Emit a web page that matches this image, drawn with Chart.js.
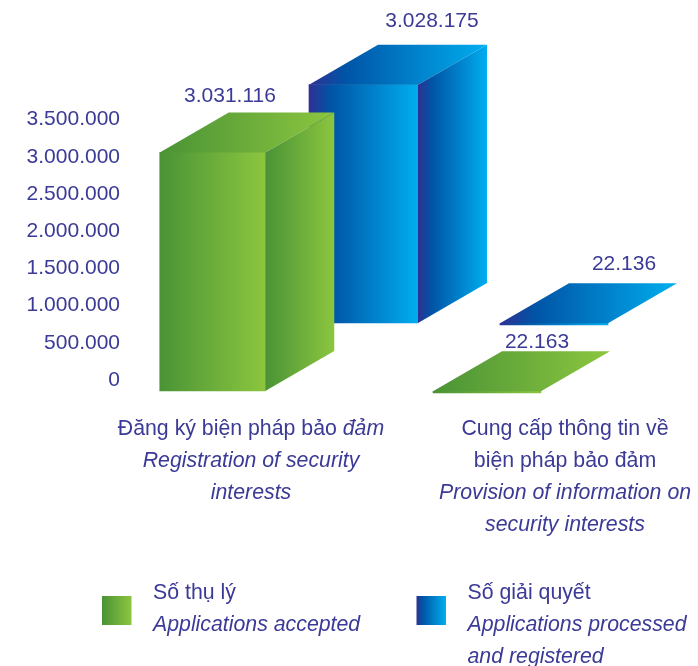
<!DOCTYPE html>
<html>
<head>
<meta charset="utf-8">
<title>Security interests</title>
<script src="https://cdn.jsdelivr.net/npm/chart.js@4/dist/chart.umd.min.js"></script>
<style>
html,body{margin:0;padding:0;background:#fff}
canvas{display:block}
</style>
</head>
<body>
<canvas id="chart" width="698" height="666"></canvas>
<script>
const categories=["Registration","Provision of information"]
const acceptedValues=[3031116,22163]
const processedValues=[3028175,22136]
const yTickValues=[0,500000,1000000,1500000,2000000,2500000,3000000,3500000]

// each label line is a list of [text, italic] runs
const categoryLines=[
[[["Đăng ký biện pháp bảo ",false],["đảm",true]],[["Registration of security",true]],[["interests",true]]],
[[["Cung cấp thông tin về",false]],[["biện pháp bảo đảm",false]],[["Provision of information on",true]],[["security interests",true]]]
]
const legendLines=[
[["Số thụ lý",false],["Applications accepted",true]],
[["Số giải quyết",false],["Applications processed",true],["and registered",true]]
]

const textColor="#3b3a96"
const fontFamily='"Liberation Sans",Arial,sans-serif'
const greenStops=[[0,"#4a9336"],[1,"#8cc63f"]]
const blueStops=[[0,"#2e3192"],[0.2,"#0054a6"],[1,"#00aeef"]]

// the boxes sit on staggered floors, so every bar is moved off its category centre
const seriesLook=[
{stops:greenStops,shiftX:[-38.5,-78],shiftY:[0,2],widths:[105.5,108],labelX:[17.5,50],labelY:[-56.5,-49.5]},
{stops:blueStops,shiftX:[112.5,-11],shiftY:[-68,-66],widths:[109,108],labelX:[68.5,70],labelY:[-63.5,-59]}
]
const depthX=69
const depthY=-40

function dotted(n){
return String(n).replace(/\B(?=(\d{3})+$)/g,".")
}

function hGradient(c,x0,x1,stops){
const g=c.createLinearGradient(x0,0,x1,0)
stops.forEach(s=>g.addColorStop(s[0],s[1]))
return g
}

function poly(c,pts,fill){
c.fillStyle=fill
c.beginPath()
pts.forEach((p,i)=>i?c.lineTo(p[0],p[1]):c.moveTo(p[0],p[1]))
c.closePath()
c.fill()
}

function drawRuns(c,runs,x,y,size,centered){
const fonts=runs.map(r=>(r[1]?"italic ":"")+size+"px "+fontFamily)
let total=0
runs.forEach((r,i)=>{c.font=fonts[i];total+=c.measureText(r[0]).width})
let px=centered?x-total/2:x
c.textAlign="left"
c.textBaseline="middle"
c.fillStyle=textColor
runs.forEach((r,i)=>{
c.font=fonts[i]
c.fillText(r[0],px,y)
px+=c.measureText(r[0]).width
})
}

const boxPlugin={
id:"box3d",
afterDatasetsUpdate(chart){
chart.data.datasets.forEach((ds,d)=>{
const look=seriesLook[d]
chart.getDatasetMeta(d).data.forEach((el,i)=>{
el.x+=look.shiftX[i]
el.y+=look.shiftY[i]
el.base+=look.shiftY[i]
el.width=look.widths[i]
const fill=hGradient(chart.ctx,el.x-el.width/2,el.x+el.width/2,look.stops)
el.options=Object.assign({},el.options,{backgroundColor:fill})
})
})
},
afterDatasetDraw(chart,args){
const c=chart.ctx
const look=seriesLook[args.index]
args.meta.data.forEach(el=>{
const l=el.x-el.width/2
const r=el.x+el.width/2
const t=el.y
const b=el.base
// top face, then the right side (too thin to show on the tiny values)
poly(c,[[l,t],[r,t],[r+depthX,t+depthY],[l+depthX,t+depthY]],hGradient(c,l,r+depthX,look.stops))
if(b-t>3){
poly(c,[[r,t],[r+depthX,t+depthY],[r+depthX,b+depthY],[r,b]],hGradient(c,r,r+depthX,look.stops))
}
})
},
afterDraw(chart){
const c=chart.ctx
const xScale=chart.scales.x

chart.data.datasets.forEach((ds,d)=>{
const look=seriesLook[d]
chart.getDatasetMeta(d).data.forEach((el,i)=>{
drawRuns(c,[[dotted(ds.data[i]),false]],el.x+look.labelX[i],el.y+look.labelY[i],21,true)
})
})

categoryLines.forEach((lines,i)=>{
lines.forEach((runs,n)=>{
drawRuns(c,runs,xScale.getPixelForTick(i),429+n*32,21.3,true)
})
})

legendLines.forEach((lines,i)=>{
const left=i?416.5:102
c.fillStyle=hGradient(c,left,left+29.5,seriesLook[i].stops)
c.fillRect(left,596,29.5,29)
lines.forEach((run,n)=>{
drawRuns(c,[run],left+51,593+n*32,21.3,false)
})
})
}
}

new Chart(document.getElementById("chart"),{
type:"bar",
data:{
labels:categories,
datasets:[
{label:"Applications accepted",data:acceptedValues,yAxisID:"yBars",clip:false},
{label:"Applications processed and registered",data:processedValues,yAxisID:"yBars",clip:false}
]
},
plugins:[boxPlugin],
options:{
responsive:false,
animation:false,
grouped:false,
barThickness:108,
layout:{autoPadding:false,padding:{left:0,right:133,top:118.5,bottom:275}},
plugins:{legend:{display:false},tooltip:{enabled:false}},
scales:{
x:{display:false,offset:false,grid:{display:false}},
y:{
position:"left",
min:-147800,
max:3513400,
border:{display:false},
grid:{display:false,drawTicks:false},
// tick padding would otherwise also push the plot area down
afterFit(s){s.width=251;s.paddingTop=0;s.paddingBottom=0},
afterBuildTicks(s){s.ticks=yTickValues.map(v=>({value:v}))},
ticks:{
padding:131,
color:textColor,
font:{family:fontFamily,size:21},
callback:v=>dotted(v)
}
},
yBars:{display:false,min:0,max:3462500}
}
}
})
</script>
</body>
</html>
